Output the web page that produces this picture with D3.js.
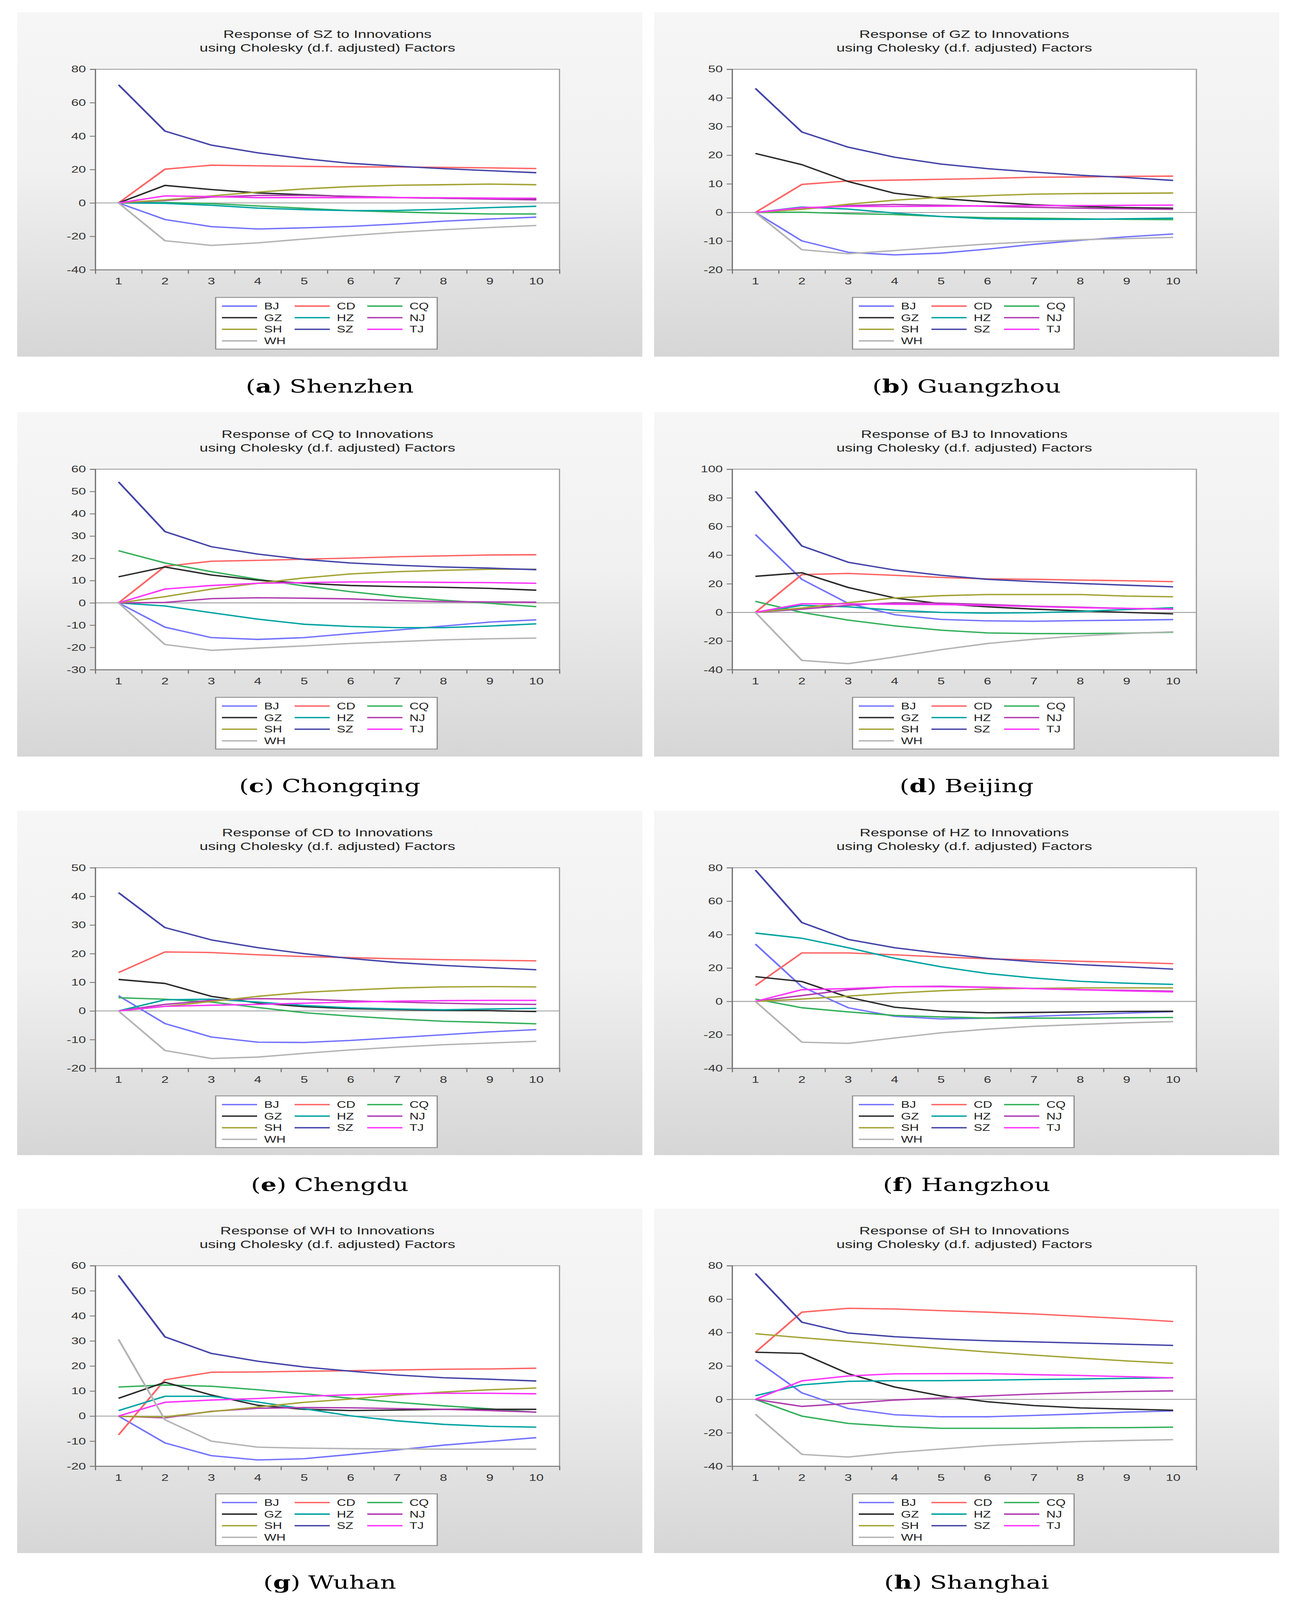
<!DOCTYPE html>
<html>
<head>
<meta charset="utf-8">
<script src="https://cdn.jsdelivr.net/npm/d3@7"></script>
<style>
  html, body { margin: 0; padding: 0; background: #fff; overflow: hidden; }
  svg { display: block; }
</style>
</head>
<body>
<svg id="chart"></svg>
<script>
// ---------------- DATA ----------------
const periods = [1, 2, 3, 4, 5, 6, 7, 8, 9, 10];
const cities = ["BJ", "CD", "CQ", "GZ", "HZ", "NJ", "SH", "SZ", "TJ", "WH"];
const cityColors = ["#7373ff", "#ff6464", "#33b05a", "#2a2a2a", "#00a3a3",
                    "#b03cb0", "#a3a335", "#4444a8", "#ff33ff", "#b4b4b4"];

const responders = ["SZ", "GZ", "CQ", "BJ", "CD", "HZ", "WH", "SH"];
const captionLetters = ["a", "b", "c", "d", "e", "f", "g", "h"];
const captionNames = ["Shenzhen", "Guangzhou", "Chongqing", "Beijing",
                      "Chengdu", "Hangzhou", "Wuhan", "Shanghai"];
const yMin = [-40, -20, -30, -40, -20, -40, -20, -40];
const yMax = [80, 50, 60, 100, 50, 80, 60, 80];
const yStep = [20, 10, 10, 20, 10, 20, 10, 20];

// each block: one row per impulse city, in the order of `cities`
const respSZ = [
  [0, -9.9, -14.2, -15.6, -14.9, -14, -12.6, -10.9, -9.6, -8.5],
  [0, 20.2, 22.6, 22.2, 21.9, 21.6, 21.5, 21.3, 21, 20.6],
  [0, 0.3, -0.4, -1.8, -3.2, -4.6, -5.4, -6.1, -6.6, -6.6],
  [0, 10.5, 8, 6, 4.9, 3.8, 3.2, 2.8, 2.4, 2.1],
  [0, -0.2, -1.4, -3.1, -4, -4.6, -4.5, -3.8, -2.8, -2],
  [0, 1.5, 3.5, 4.5, 4.5, 4, 3.3, 2.8, 2.3, 1.8],
  [0, 1.8, 4.2, 6.5, 8.4, 9.8, 10.6, 10.9, 11.3, 10.9],
  [70.7, 43, 34.6, 30, 26.5, 23.7, 22, 20.5, 19.3, 18.1],
  [0, 4.2, 3.8, 3.2, 3.2, 3.2, 3.2, 3.1, 2.9, 2.8],
  [0, -22.6, -25.4, -23.9, -21.6, -19.5, -17.6, -16, -14.7, -13.5]
];
const respGZ = [
  [0, -9.9, -13.9, -14.8, -14.2, -12.8, -11.1, -9.7, -8.5, -7.5],
  [0, 9.8, 11, 11.3, 11.6, 11.9, 12.3, 12.4, 12.6, 12.7],
  [0, 0.1, -0.4, -0.7, -1.4, -1.8, -2, -2.2, -2.4, -2.5],
  [20.6, 16.7, 10.8, 6.7, 4.9, 3.7, 2.7, 2.1, 1.7, 1.5],
  [0, 1.9, 1.2, -0.2, -1.4, -2.2, -2.4, -2.4, -2.2, -2],
  [0, 1.2, 2.4, 2.8, 2.5, 2.2, 1.8, 1.5, 1.3, 1.1],
  [0, 1.1, 2.9, 4.3, 5.3, 5.9, 6.4, 6.6, 6.7, 6.8],
  [43.3, 28.1, 22.8, 19.3, 16.9, 15.3, 14.1, 13, 12.2, 11.2],
  [0, 1.7, 2.1, 2.1, 2.2, 2.3, 2.4, 2.4, 2.5, 2.6],
  [0, -13, -14.4, -13.3, -12.1, -11, -10.2, -9.5, -9.1, -8.7]
];
const respCQ = [
  [0, -10.9, -15.6, -16.4, -15.6, -13.8, -12.2, -10.4, -8.6, -7.6],
  [0, 16.4, 18.7, 19.1, 19.6, 20.1, 20.7, 21.1, 21.5, 21.6],
  [23.4, 17.9, 14, 10.6, 7.6, 5, 2.8, 1.2, -0.2, -1.7],
  [11.7, 16.1, 12.5, 10.2, 8.8, 7.8, 7.3, 7, 6.5, 5.7],
  [0, -1.4, -4.4, -7.3, -9.6, -10.6, -11.1, -11.1, -10.4, -9.4],
  [0, 0.2, 1.9, 2.3, 2.1, 1.8, 1, 0.6, 0.4, 0.3],
  [0, 2.8, 6.2, 8.8, 11.2, 13, 14, 14.6, 15.1, 15.1],
  [54.3, 32, 25.2, 21.9, 19.5, 17.9, 16.9, 16.1, 15.6, 14.9],
  [0, 6.2, 7.8, 8.8, 9.1, 9.4, 9.4, 9.2, 9.1, 8.8],
  [0, -18.7, -21.3, -20.3, -19.3, -18.2, -17.4, -16.6, -16.1, -15.8]
];
const respBJ = [
  [54.4, 23.1, 6.3, -1.6, -4.9, -5.9, -6.2, -5.7, -5.4, -5],
  [0, 26.4, 27.2, 25.9, 24.4, 23.4, 23.1, 22.6, 22.1, 21.5],
  [7.7, 0, -5.4, -9.4, -12.4, -14.3, -14.8, -14.8, -14.5, -13.8],
  [25.2, 27.7, 17.4, 10.1, 6, 3.9, 2.3, 1.1, 0, -1],
  [0, 4.9, 3.9, 1.5, 0, -0.5, -0.2, 0.7, 2, 3.3],
  [0, 2.3, 5, 6.7, 6.5, 5.5, 4.4, 3.6, 2.8, 2.3],
  [0, 3.1, 6.8, 10.1, 11.7, 12.5, 12.5, 12.5, 11.4, 10.9],
  [84.6, 46.4, 35, 29.6, 25.9, 23.1, 21.5, 20.2, 19, 17.9],
  [0, 6, 6, 5.7, 5.5, 4.9, 4.1, 3.3, 2.8, 2.3],
  [0, -33.5, -35.8, -31.1, -26, -21.7, -18.7, -16.4, -14.8, -13.5]
];
const respCD = [
  [5.3, -4.4, -9.1, -10.9, -11, -10.3, -9.3, -8.3, -7.3, -6.5],
  [13.4, 20.6, 20.4, 19.6, 19, 18.6, 18.2, 17.9, 17.7, 17.5],
  [4.6, 4.1, 3.1, 1.2, -0.6, -1.8, -2.8, -3.6, -4, -4.5],
  [11, 9.6, 5.1, 2.8, 1.5, 0.8, 0.5, 0.2, 0.1, -0.2],
  [0, 3.9, 4.1, 3.1, 1.9, 1.1, 0.7, 0.4, 0.7, 0.9],
  [0, 2.3, 3.7, 4.3, 4.1, 3.5, 3.1, 2.7, 2.4, 2.3],
  [0, 1.6, 3.3, 5.1, 6.5, 7.3, 8, 8.4, 8.5, 8.4],
  [41.3, 29.1, 24.8, 22.1, 20, 18.3, 16.9, 15.9, 15.1, 14.4],
  [0, 1.6, 2, 2.3, 2.7, 3.1, 3.4, 3.6, 3.7, 3.7],
  [0, -13.8, -16.6, -16.1, -14.8, -13.6, -12.6, -11.8, -11.2, -10.6]
];
const respHZ = [
  [34.3, 8.8, -3.8, -8.9, -10.5, -10, -8.9, -8, -7, -6.1],
  [9.5, 29, 29, 27.9, 26.6, 25.5, 24.8, 24, 23.4, 22.6],
  [1.4, -3.8, -6.3, -8.4, -9.3, -10, -10, -10, -9.8, -9.6],
  [14.8, 11.9, 2.5, -3.5, -5.9, -6.8, -6.6, -6.3, -6, -5.9],
  [40.9, 37.8, 32.1, 25.8, 20.7, 16.7, 14, 12, 10.9, 10.2],
  [0, 3.5, 7, 8.8, 9.1, 8.5, 7.7, 7, 6.6, 6.1],
  [0, 1.4, 3.2, 5, 6.4, 7.4, 7.8, 8.1, 8.1, 8.1],
  [78.6, 47.2, 37.1, 32.1, 28.7, 25.8, 23.7, 22, 20.7, 19.3],
  [0, 7, 7.7, 8.8, 8.8, 8.4, 7.7, 7, 6.3, 5.7],
  [0, -24.4, -25.1, -21.9, -18.8, -16.6, -14.9, -13.8, -12.8, -12.1]
];
const respWH = [
  [0, -10.7, -15.8, -17.5, -17, -15.3, -13.5, -11.6, -10.1, -8.6],
  [-7.5, 14.5, 17.5, 17.6, 17.9, 18.1, 18.4, 18.7, 18.8, 19.1],
  [11.6, 12.4, 11.9, 10.5, 8.9, 7.1, 5.5, 4.1, 2.9, 1.5],
  [7.1, 13.5, 8.4, 4.3, 2.7, 2.2, 2.4, 2.7, 2.7, 2.7],
  [2.2, 7.9, 7.9, 5.6, 2.9, 0.1, -1.9, -3.3, -4.1, -4.4],
  [0, -0.7, 1.9, 3.1, 3.4, 3.3, 3, 2.7, 2.2, 1.6],
  [-0.1, -0.3, 1.8, 3.6, 5.5, 6.8, 8.4, 9.6, 10.5, 11.2],
  [56.1, 31.6, 25, 21.9, 19.6, 17.9, 16.4, 15.3, 14.7, 14],
  [0, 5.5, 6.4, 7, 7.9, 8.5, 8.9, 9.1, 9.1, 8.9],
  [30.6, -1.5, -10, -12.4, -12.8, -13, -13.1, -13.2, -13.2, -13.2]
];
const respSH = [
  [23.7, 3.9, -5.5, -9.2, -10.4, -10.4, -9.6, -8.7, -7.6, -6.9],
  [28.2, 52.2, 54.5, 54.1, 53.1, 52.2, 51.1, 49.7, 48.3, 46.6],
  [0, -10, -14.4, -16.2, -17.3, -17.3, -17.3, -17, -16.9, -16.6],
  [28.2, 27.5, 15.4, 7.4, 2.1, -1.4, -3.7, -5.1, -5.8, -6.5],
  [2.2, 8.7, 10.8, 11.2, 11.2, 11.5, 11.9, 12.2, 12.6, 12.9],
  [0, -4.2, -2.4, -0.4, 0.8, 2.1, 3.2, 4, 4.7, 5.1],
  [39.3, 36.9, 34.7, 32.6, 30.5, 28.4, 26.5, 24.7, 23, 21.6],
  [75.3, 46.2, 39.7, 37.5, 36.1, 35.1, 34.4, 33.7, 33, 32.3],
  [0, 11.1, 14, 15.3, 15.4, 15.4, 14.8, 14.3, 13.6, 12.9],
  [-8.9, -32.9, -34.5, -31.8, -29.7, -27.7, -26.4, -25.2, -24.6, -24.1]
];
const responses = [respSZ, respGZ, respCQ, respBJ, respCD, respHZ, respWH, respSH];

// ---------------- LAYOUT ----------------
// the figure is laid out on a 3317 x 5729 board and stretched onto the window
const W = 3317, H = 5729;
const panelX = [44, 1674];
const panelY = [44, 1476, 2903, 4328];
const panelW = 1600, panelH = 1233;
const plot = { left: 200, right: 1388, top: 204, bottom: 922 };
const sansFont = "'Liberation Sans', Arial, Helvetica, sans-serif";

const svg = d3.select("#chart")
  .attr("viewBox", `0 0 ${W} ${H}`)
  .attr("preserveAspectRatio", "none")
  .attr("width", window.innerWidth || W)
  .attr("height", window.innerHeight || H);
svg.append("rect").attr("width", W).attr("height", H).attr("fill", "#fff");

const grad = svg.append("defs").append("linearGradient")
  .attr("id", "panelBg").attr("x1", 0).attr("y1", 0).attr("x2", 0).attr("y2", 1);
grad.append("stop").attr("offset", "0").attr("stop-color", "#f6f6f6");
grad.append("stop").attr("offset", "0.45").attr("stop-color", "#f1f1f1");
grad.append("stop").attr("offset", "1").attr("stop-color", "#d6d6d6");

// ---------------- PANELS ----------------
responders.forEach((code, i) => {
  const g = svg.append("g")
    .attr("transform", `translate(${panelX[i % 2]},${panelY[Math.floor(i / 2)]})`);

  g.append("rect").attr("width", panelW).attr("height", panelH)
    .attr("fill", "url(#panelBg)");

  const x = d3.scaleBand().domain(periods).range([plot.left, plot.right]);
  const xEdge = d3.scaleLinear().domain([0, periods.length]).range([plot.left, plot.right]);
  const y = d3.scaleLinear().domain([yMin[i], yMax[i]]).range([plot.bottom, plot.top]);
  const cx = (plot.left + plot.right) / 2;

  // title
  const title = g.append("text")
    .attr("text-anchor", "middle")
    .style("font-family", sansFont).style("font-size", "39px").attr("fill", "#222");
  title.append("tspan").attr("x", cx).attr("y", 92)
    .text(`Response of ${code} to Innovations`);
  title.append("tspan").attr("x", cx).attr("y", 141)
    .text("using Cholesky (d.f. adjusted) Factors");

  // plot area
  g.append("rect")
    .attr("x", plot.left).attr("y", plot.top)
    .attr("width", plot.right - plot.left).attr("height", plot.bottom - plot.top)
    .attr("fill", "#fff").attr("stroke", "#9a9a9a").attr("stroke-width", 3);

  // zero line
  g.append("line")
    .attr("x1", plot.left).attr("x2", plot.right)
    .attr("y1", y(0)).attr("y2", y(0))
    .attr("stroke", "#9a9a9a").attr("stroke-width", 3);

  // y axis
  const yAxis = g.append("g").attr("transform", `translate(${plot.left},0)`)
    .call(d3.axisLeft(y)
      .tickValues(d3.range(yMin[i], yMax[i] + 0.001, yStep[i]))
      .tickSize(14).tickPadding(10).tickFormat(d => String(d)));
  yAxis.select(".domain").attr("stroke", "#777").attr("stroke-width", 3);
  yAxis.selectAll(".tick line").attr("stroke", "#777").attr("stroke-width", 3);
  yAxis.selectAll("text").style("font-family", sansFont).style("font-size", "34px")
    .attr("fill", "#333");

  // x axis: ticks at band edges, labels at band centres
  const xAxis = g.append("g").attr("transform", `translate(0,${plot.bottom})`)
    .call(d3.axisBottom(xEdge).tickValues(d3.range(0, periods.length + 1))
      .tickSize(14).tickFormat(""));
  xAxis.select(".domain").attr("stroke", "#777").attr("stroke-width", 3);
  xAxis.selectAll(".tick line").attr("stroke", "#777").attr("stroke-width", 3);

  g.selectAll(".xlabel").data(periods).join("text")
    .attr("class", "xlabel")
    .attr("x", d => x(d) + x.bandwidth() / 2)
    .attr("y", plot.bottom + 52)
    .attr("text-anchor", "middle")
    .style("font-family", sansFont).style("font-size", "34px")
    .attr("fill", "#333")
    .text(d => d);

  // response lines
  const line = d3.line()
    .x((d, j) => x(periods[j]) + x.bandwidth() / 2)
    .y(d => y(d));

  g.append("g").selectAll("path").data(responses[i]).join("path")
    .attr("d", line)
    .attr("fill", "none")
    .attr("stroke", (d, k) => cityColors[k])
    .attr("stroke-width", 5)
    .attr("stroke-linejoin", "round");

  // legend
  const lg = g.append("g").attr("transform", "translate(508,1021)");
  lg.append("rect").attr("width", 567).attr("height", 185)
    .attr("fill", "#fff").attr("stroke", "#8a8a8a").attr("stroke-width", 3);
  const item = lg.selectAll(".item").data(cities).join("g")
    .attr("class", "item")
    .attr("transform", (d, k) => `translate(${16 + (k % 3) * 186},${31 + Math.floor(k / 3) * 41.5})`);
  item.append("line").attr("x1", 0).attr("x2", 90)
    .attr("stroke", (d, k) => cityColors[k]).attr("stroke-width", 5);
  item.append("text").attr("x", 108).attr("dy", "0.36em")
    .style("font-family", sansFont).style("font-size", "33px")
    .attr("fill", "#222")
    .text(d => d);

  // caption below the panel
  const cap = g.append("text")
    .attr("x", panelW / 2).attr("y", 1361)
    .attr("text-anchor", "middle")
    .style("font-family", "'DejaVu Serif', 'Liberation Serif', serif")
    .style("font-size", "64px").attr("fill", "#000");
  cap.append("tspan").text("(");
  cap.append("tspan").style("font-weight", "bold").text(captionLetters[i]);
  cap.append("tspan").text(") " + captionNames[i]);
});
</script>
</body>
</html>
